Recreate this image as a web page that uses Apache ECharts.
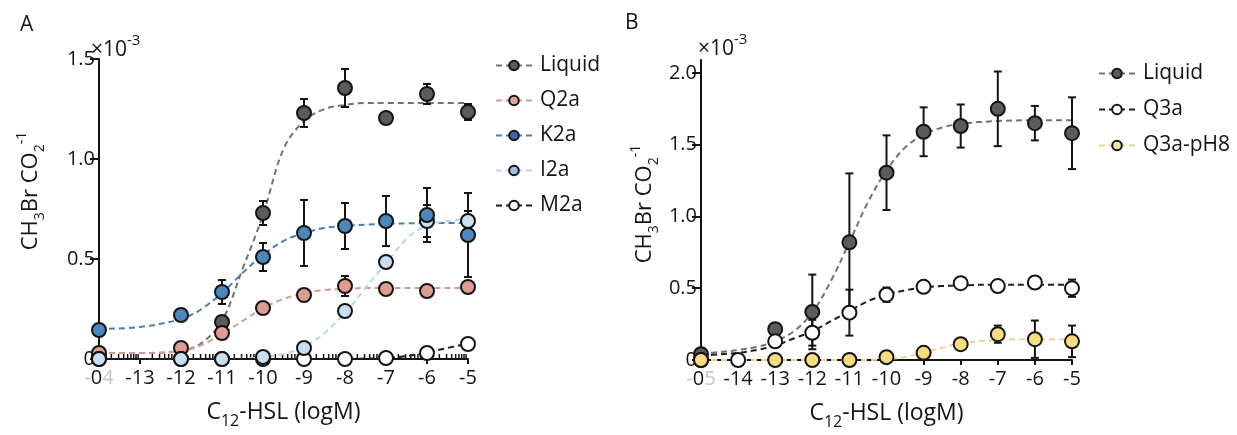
<!DOCTYPE html>
<html>
<head>
<meta charset="utf-8">
<script src="https://cdn.jsdelivr.net/npm/echarts@6/dist/echarts.min.js"></script>
<style>
  html, body, #chart { width: 100%; height: 100%; margin: 0; background: #fff; }
</style>
</head>
<body>
<div id="chart"></div>
<script>
// values are CH3Br / CO2 in units of 1e-3, x is log10 of C12-HSL concentration (M)
// panel A
var xA = [-14, -12, -11, -10, -9, -8, -7, -6, -5];
var liquidA    = [0.01, null, 0.185, 0.73, 1.23, 1.355, 1.205, 1.325, 1.235];
var liquidAErr = [0, 0, 0.03, 0.06, 0.07, 0.095, 0, 0.05, 0.04];
var q2a    = [0.03, 0.055, 0.13, 0.255, 0.32, 0.365, 0.35, 0.34, 0.36];
var q2aErr = [0, 0.01, 0.03, 0.015, 0.03, 0.05, 0.02, 0.03, 0.02];
var k2a    = [0.145, 0.22, 0.335, 0.51, 0.63, 0.665, 0.69, 0.72, 0.62];
var k2aErr = [0, 0.02, 0.06, 0.07, 0.165, 0.115, 0.125, 0.135, 0.21];
var i2a    = [0, 0, 0, 0.01, 0.055, 0.24, 0.485, 0.69, 0.69];
var i2aErr = [0, 0, 0, 0, 0.01, 0.02, 0.03, 0.08, 0.05];
var m2a    = [0, 0, 0, 0, 0, 0, 0.005, 0.03, 0.075];
var m2aErr = [0, 0, 0, 0, 0, 0, 0, 0, 0];

// fitted curves of panel A
var fitXA = [-14, -13, -12, -11.5, -11, -10.5, -10, -9.5, -9, -8.5, -8, -7.5, -7, -6.5, -6, -5.5, -5];
var liquidAFit = [0.03, 0.03, 0.04, 0.08, 0.19, 0.45, 0.72, 1.05, 1.19, 1.25, 1.27, 1.28, 1.28, 1.28, 1.28, 1.28, 1.28];
var q2aFit = [0.03, 0.03, 0.04, 0.07, 0.125, 0.19, 0.255, 0.3, 0.33, 0.345, 0.35, 0.355, 0.355, 0.355, 0.355, 0.355, 0.355];
var k2aFit = [0.15, 0.16, 0.2, 0.25, 0.33, 0.43, 0.52, 0.59, 0.63, 0.655, 0.665, 0.672, 0.676, 0.678, 0.68, 0.68, 0.68];
var i2aFit = [0, 0, 0, 0, 0, 0.003, 0.008, 0.025, 0.06, 0.13, 0.23, 0.355, 0.48, 0.6, 0.67, 0.69, 0.7];
var m2aFit = [0, 0, 0, 0, 0, 0, 0, 0, 0, 0, 0, 0.002, 0.005, 0.015, 0.033, 0.055, 0.078];

// panel B
var xB = [-15, -14, -13, -12, -11, -10, -9, -8, -7, -6, -5];
var liquidB    = [0.04, null, 0.215, 0.335, 0.82, 1.305, 1.59, 1.63, 1.75, 1.65, 1.58];
var liquidBErr = [0, 0, 0.02, 0.26, 0.48, 0.26, 0.17, 0.15, 0.26, 0.12, 0.25];
var q3a    = [0, 0, 0.13, 0.19, 0.33, 0.455, 0.51, 0.535, 0.515, 0.54, 0.5];
var q3aErr = [0, 0, 0.02, 0.09, 0.16, 0.05, 0.04, 0.02, 0.02, 0.04, 0.06];
var ph8    = [0, null, 0, 0, 0, 0.02, 0.05, 0.11, 0.18, 0.145, 0.13];
var ph8Err = [0, 0, 0, 0.01, 0, 0, 0, 0, 0.06, 0.13, 0.11];

var fitXB = [-15, -14.5, -14, -13.5, -13, -12.5, -12, -11.5, -11, -10.5, -10, -9.5, -9, -8.5, -8, -7, -6, -5];
var liquidBFit = [0.045, 0.055, 0.07, 0.09, 0.13, 0.2, 0.33, 0.55, 0.82, 1.1, 1.32, 1.48, 1.57, 1.62, 1.645, 1.665, 1.67, 1.67];
var q3aFit = [0.03, 0.04, 0.05, 0.07, 0.1, 0.15, 0.2, 0.27, 0.34, 0.41, 0.455, 0.485, 0.505, 0.515, 0.52, 0.525, 0.525, 0.525];
var ph8Fit = [0, 0, 0, 0, 0, 0, 0, 0, 0, 0, 0.005, 0.02, 0.05, 0.085, 0.115, 0.14, 0.145, 0.145];

var ticksA = [0, 0.5, 1, 1.5];
var ticksB = [0, 0.5, 1, 1.5, 2];

var FONT = 'Open Sans';
var INK = '#141414';

var chart = echarts.init(document.getElementById('chart'));

function pairs(xs, ys) {
  var out = [];
  xs.forEach(function (x, i) { if (ys[i] !== null) out.push([x, ys[i]]); });
  return out;
}

function fitLine(name, xs, ys, idx, lineColor, iconColor) {
  return {
    type: 'line', name: name, xAxisIndex: idx, yAxisIndex: idx,
    data: pairs(xs, ys), smooth: 0.35, showSymbol: false,
    symbol: 'circle', symbolSize: 12,
    itemStyle: { color: iconColor, borderColor: INK, borderWidth: 1.6 },
    lineStyle: { color: lineColor, width: 2, type: [6, 4] },
    silent: true, z: 2
  };
}

function errBars(name, xs, ys, es, idx) {
  var data = [];
  xs.forEach(function (x, i) {
    if (ys[i] !== null && es[i] > 0) data.push([x, ys[i], es[i]]);
  });
  return {
    type: 'custom', name: name + ' sd', xAxisIndex: idx, yAxisIndex: idx, data: data, z: 3, silent: true,
    renderItem: function (params, api) {
      var x = api.value(0), y = api.value(1), e = api.value(2);
      var t = api.coord([x, y + e]), b = api.coord([x, y - e]);
      var st = { stroke: INK, lineWidth: 2 };
      return {
        type: 'group', children: [
          { type: 'line', shape: { x1: t[0], y1: t[1], x2: b[0], y2: b[1] }, style: st },
          { type: 'line', shape: { x1: t[0] - 4, y1: t[1], x2: t[0] + 4, y2: t[1] }, style: st },
          { type: 'line', shape: { x1: b[0] - 4, y1: b[1], x2: b[0] + 4, y2: b[1] }, style: st }
        ]
      };
    }
  };
}

function points(name, xs, ys, idx, fill) {
  return {
    type: 'scatter', name: name, xAxisIndex: idx, yAxisIndex: idx,
    data: pairs(xs, ys), symbol: 'circle', symbolSize: 14,
    itemStyle: { color: fill, borderColor: INK, borderWidth: 2, opacity: 1 },
    z: 4
  };
}

// log-style minor ticks along the bottom axis of panel A
var minorA = [];
for (var d = -14; d < -5; d++) {
  for (var m = 2; m <= 9; m++) minorA.push([d + Math.log10(m), 0]);
}

var rich = {
  s: { fontFamily: FONT, color: INK, fontSize: 16, lineHeight: 34, verticalAlign: 'bottom' },
  p: { fontFamily: FONT, color: INK, fontSize: 15, lineHeight: 34, verticalAlign: 'top' }
};
var yRich = {
  s: { fontFamily: FONT, color: INK, fontSize: 14, lineHeight: 32, verticalAlign: 'bottom' },
  p: { fontFamily: FONT, color: INK, fontSize: 14, lineHeight: 32, verticalAlign: 'top' }
};
var labelRich = {
  g: { fontFamily: FONT, fontSize: 20, color: '#c4c4c4' },
  k: { fontFamily: FONT, fontSize: 20, color: INK }
};

function xAxis(idx, min, first) {
  return {
    type: 'value', gridIndex: idx, min: min, max: -5, interval: 1,
    name: 'C{s|12}-HSL (logM)', nameLocation: 'middle', nameGap: 36,
    nameTextStyle: { fontFamily: FONT, fontSize: 23, color: INK, lineHeight: 30, rich: rich },
    axisLine: { lineStyle: { color: INK, width: 2 } },
    axisTick: { length: 5, lineStyle: { color: INK, width: 2 } },
    axisLabel: {
      fontFamily: FONT, fontSize: 20, color: INK, margin: 9, rich: labelRich,
      formatter: function (v) { return v === min ? first : String(v); }
    },
    splitLine: { show: false }
  };
}

function yAxis(idx, max, ticks, gap, pad) {
  return {
    type: 'value', gridIndex: idx, min: 0, max: max,
    name: 'CH{s|3}Br CO{s|2}{p|-1}', nameLocation: 'middle', nameRotate: 90, nameGap: gap,
    nameTextStyle: { fontFamily: FONT, fontSize: 22, color: INK, lineHeight: 28, rich: yRich, padding: [0, 0, 0, pad] },
    axisLine: { lineStyle: { color: INK, width: 2 } },
    axisTick: { length: 9, customValues: ticks, lineStyle: { color: INK, width: 2 } },
    axisLabel: {
      fontFamily: FONT, fontSize: 20, color: INK, margin: 4, customValues: ticks,
      formatter: function (v) { return v === 0 ? '0' : v.toFixed(1); }
    },
    splitLine: { show: false }
  };
}

var expRich = {
  a: { fontFamily: FONT, fontSize: 21, fontWeight: 'normal', color: INK, lineHeight: 28, verticalAlign: 'bottom' },
  b: { fontFamily: FONT, fontSize: 15, fontWeight: 'normal', color: INK, lineHeight: 28, verticalAlign: 'top' }
};

function legend(left, top, names, gap) {
  return {
    orient: 'vertical', left: left, top: top, data: names,
    itemWidth: 36, itemHeight: 12, itemGap: gap,
    textStyle: { fontFamily: FONT, fontSize: 21, color: INK, lineHeight: 21, padding: [0, 0, 0, 3] },
    selectedMode: false
  };
}

var option = {
  animation: false,
  backgroundColor: '#fff',
  textStyle: { fontFamily: FONT },
  title: [
    { text: 'A', left: 15, top: 10, textStyle: { fontFamily: FONT, fontSize: 21, fontWeight: 'normal', color: INK } },
    { text: 'B', left: 620, top: 8, textStyle: { fontFamily: FONT, fontSize: 21, fontWeight: 'normal', color: INK } },
    { text: '{a|×10}{b|-3}', left: 86, top: 28, textStyle: { fontWeight: 'normal', rich: expRich } },
    { text: '{a|×10}{b|-3}', left: 693, top: 27, textStyle: { fontWeight: 'normal', rich: expRich } }
  ],
  legend: [
    legend(490, 50, ['Liquid', 'Q2a', 'K2a', 'I2a', 'M2a'], 14),
    legend(1093, 58, ['Liquid', 'Q3a', 'Q3a-pH8'], 15)
  ],
  grid: [
    { left: 99, top: 59, width: 369, height: 300 },
    { left: 701, top: 60, width: 371, height: 301 }
  ],
  xAxis: [
    xAxis(0, -14, '{g|-}{k|0}{g|4}'),
    xAxis(1, -15, '{g|-}{k|0}{g|5}')
  ],
  yAxis: [
    yAxis(0, 1.5, ticksA, 52, 36),
    yAxis(1, 2.09, ticksB, 40, 12)
  ],
  series: [
    {
      type: 'custom', name: 'minor ticks', xAxisIndex: 0, yAxisIndex: 0, data: minorA, silent: true, z: 1,
      renderItem: function (params, api) {
        var p = api.coord([api.value(0), 0]);
        return { type: 'line', shape: { x1: p[0], y1: p[1], x2: p[0], y2: p[1] - 5 }, style: { stroke: INK, lineWidth: 1.5 } };
      }
    },
    fitLine('Liquid', fitXA, liquidAFit, 0, '#737373', '#5b5b5b'),
    fitLine('Q2a', fitXA, q2aFit, 0, '#d29a90', '#e0a398'),
    fitLine('K2a', fitXA, k2aFit, 0, '#4b80ad', '#3d68a8'),
    fitLine('I2a', fitXA, i2aFit, 0, '#bcd3e8', '#a4bfe4'),
    fitLine('M2a', fitXA, m2aFit, 0, '#1e1e1e', '#ffffff'),
    fitLine('Liquid', fitXB, liquidBFit, 1, '#737373', '#5b5b5b'),
    fitLine('Q3a', fitXB, q3aFit, 1, '#1e1e1e', '#ffffff'),
    fitLine('Q3a-pH8', fitXB, ph8Fit, 1, '#e9d68f', '#f2e4a4'),

    errBars('Liquid', xA, liquidA, liquidAErr, 0),
    errBars('Q2a', xA, q2a, q2aErr, 0),
    errBars('K2a', xA, k2a, k2aErr, 0),
    errBars('I2a', xA, i2a, i2aErr, 0),
    errBars('M2a', xA, m2a, m2aErr, 0),
    errBars('Liquid', xB, liquidB, liquidBErr, 1),
    errBars('Q3a', xB, q3a, q3aErr, 1),
    errBars('Q3a-pH8', xB, ph8, ph8Err, 1),

    points('Liquid', xA, liquidA, 0, '#5b5b5b'),
    points('Q2a', xA, q2a, 0, '#dd9d92'),
    points('M2a', xA, m2a, 0, '#ffffff'),
    points('I2a', xA, i2a, 0, '#c9def0'),
    points('K2a', xA, k2a, 0, '#4a88bd'),
    points('Liquid', xB, liquidB, 1, '#5b5b5b'),
    points('Q3a', xB, q3a, 1, '#ffffff'),
    points('Q3a-pH8', xB, ph8, 1, '#f7dd7f')
  ]
};

chart.setOption(option);
</script>
</body>
</html>
